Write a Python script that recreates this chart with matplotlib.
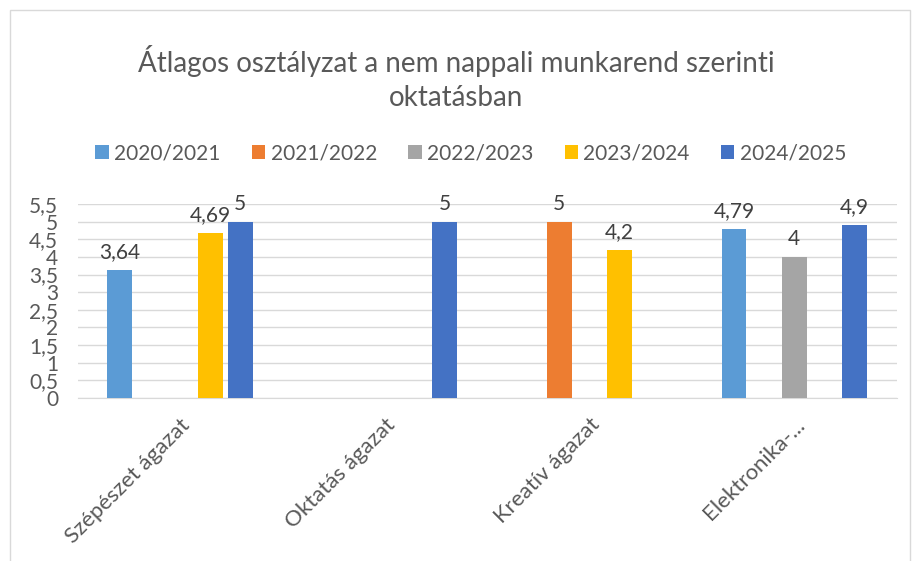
import matplotlib.pyplot as plt
import numpy as np
from matplotlib.patches import Rectangle

categories = ["Szépészet ágazat", "Oktatás ágazat", "Kreatív ágazat", "Elektronika-..."]
series_names = ["2020/2021", "2021/2022", "2022/2023", "2023/2024", "2024/2025"]
s2020 = [3.64, np.nan, np.nan, 4.79]
s2021 = [np.nan, np.nan, 5, np.nan]
s2022 = [np.nan, np.nan, np.nan, 4]
s2023 = [4.69, np.nan, 4.2, np.nan]
s2024 = [5, 5, np.nan, 4.9]
colors = ["#5B9BD5", "#ED7D31", "#A5A5A5", "#FFC000", "#4472C4"]

plt.rcParams['font.family'] = ['Lato', 'DejaVu Sans']
txt = "#595959"

fig = plt.figure(figsize=(9.13, 5.61), dpi=100)
ax = fig.add_axes([0.085, 0.2906, 0.897, 0.3458])

all_series = [s2020, s2021, s2022, s2023, s2024]
x = np.arange(len(categories))
step = 0.147
width = 0.122
for i, vals in enumerate(all_series):
    pos = x + (i - 2) * step
    vals = np.array(vals, dtype=float)
    ax.bar(pos, np.nan_to_num(vals), width, color=colors[i], label=series_names[i], zorder=3)
    for p, v in zip(pos, vals):
        if not np.isnan(v):
            lab = ("%g" % v).replace(".", ",")
            ax.text(p, v + 0.22, lab, ha="center", va="bottom", fontsize=15, color="#404040")

ax.set_ylim(0, 5.5)
ax.set_xlim(-0.5, len(categories) - 0.5)
yt = np.arange(0, 5.51, 0.5)
ax.set_yticks(yt)
ax.set_yticklabels([("%g" % t).replace(".", ",") for t in yt], fontsize=15, color=txt)
ax.set_xticks(x)
ax.set_xticklabels(categories, rotation=45, ha="right", rotation_mode="anchor",
                   fontsize=16, color=txt)
ax.tick_params(axis="both", length=0)
ax.tick_params(axis="y", pad=14)
ax.tick_params(axis="x", pad=12)
ax.grid(axis="y", color="#D9D9D9", linewidth=1, zorder=0)
for s in ["top", "right", "left"]:
    ax.spines[s].set_visible(False)
ax.spines["bottom"].set_color("#D9D9D9")

fig.text(0.5, 0.861, "Átlagos osztályzat a nem nappali munkarend szerinti\noktatásban",
         ha="center", va="center", fontsize=20, color=txt, linespacing=1.35)

ax.legend(loc="center", bbox_to_anchor=(0.48, 1.262), ncol=5, frameon=False,
          fontsize=15, labelcolor=txt, handlelength=0.65, handleheight=0.65,
          columnspacing=1.5, handletextpad=0.25)

fig.patches.append(Rectangle((10 / 913, -0.05), 900 / 913, 1.05 - 10 / 561,
                             transform=fig.transFigure, fill=False,
                             edgecolor="#D9D9D9", linewidth=1))

fig.savefig("out.png", dpi=100)
